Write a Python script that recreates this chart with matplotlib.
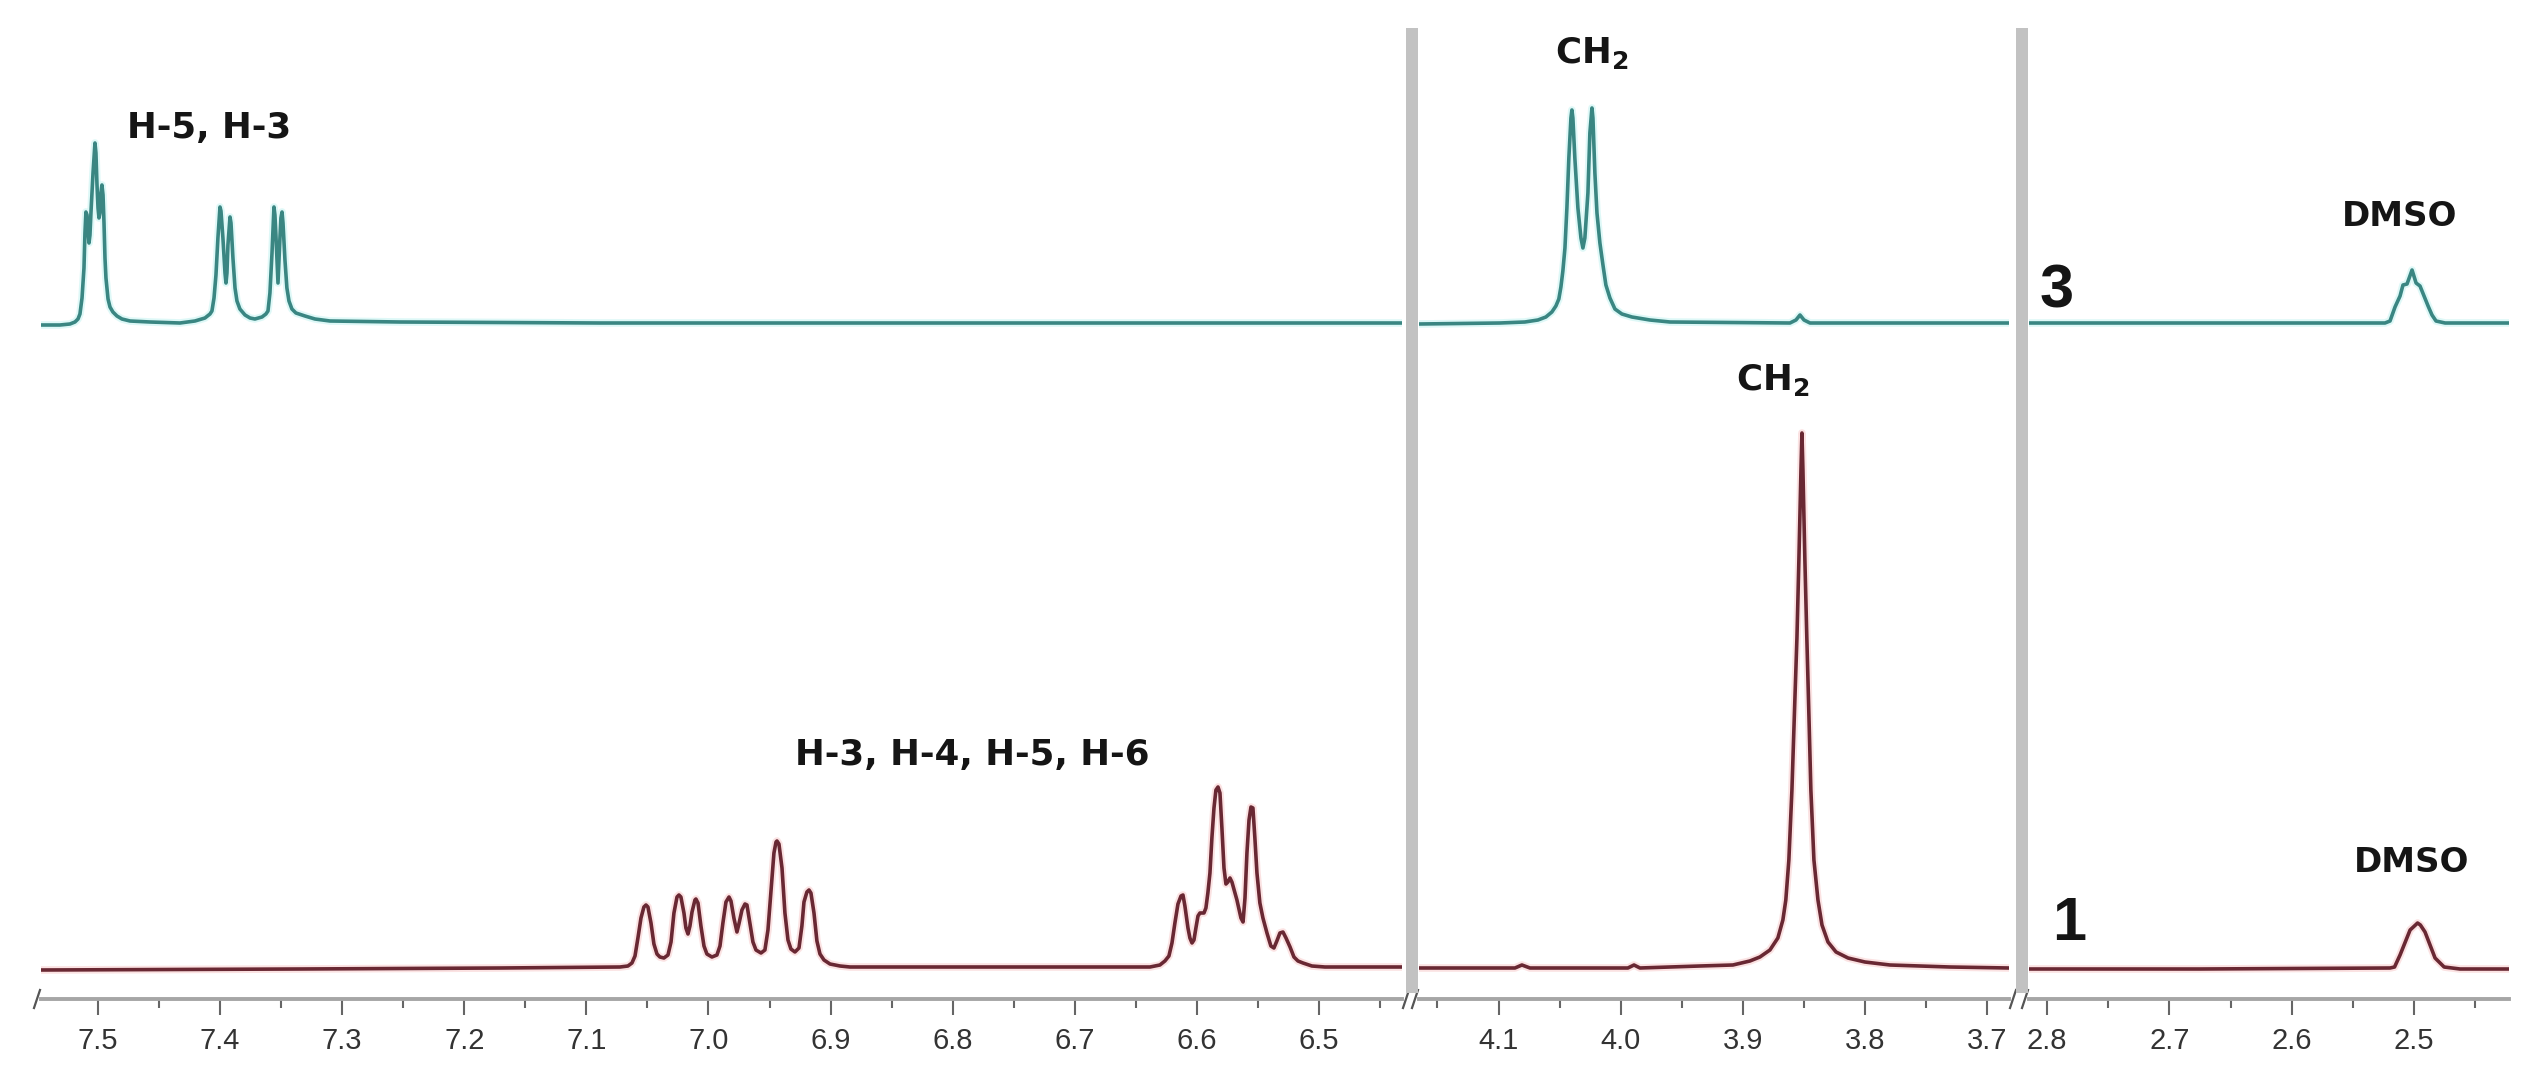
import matplotlib
matplotlib.use("Agg")
import matplotlib.pyplot as plt
from matplotlib.patches import Rectangle

W, H = 2545, 1086

# left region, aromatic
teal_ppm_a = [7.5459, 7.5312, 7.5230, 7.5189, 7.5164, 7.5148, 7.5131, 7.5115, 7.5107, 7.5099, 7.5090,
              7.5082, 7.5074, 7.5066, 7.5058, 7.5041, 7.5025, 7.5017, 7.5009, 7.5000, 7.4992, 7.4984,
              7.4976, 7.4968, 7.4959, 7.4951, 7.4943, 7.4935, 7.4918, 7.4902, 7.4878, 7.4845, 7.4804,
              7.4738, 7.4574, 7.4329, 7.4206, 7.4124, 7.4083, 7.4067, 7.4050, 7.4034, 7.4018, 7.4001,
              7.3993, 7.3977, 7.3960, 7.3952, 7.3944, 7.3936, 7.3919, 7.3911, 7.3895, 7.3878, 7.3862,
              7.3838, 7.3796, 7.3755, 7.3715, 7.3657, 7.3625, 7.3608, 7.3592, 7.3575, 7.3559, 7.3551,
              7.3543, 7.3526, 7.3510, 7.3502, 7.3493, 7.3485, 7.3469, 7.3453, 7.3436, 7.3412, 7.3379,
              7.3305, 7.3223, 7.3100, 7.2527, 7.0889, 6.8432, 6.4320]
teal_int_a = [-2, -2, -1, 1, 4, 9, 25, 55, 90, 111, 108,
              92, 80, 88, 110, 150, 180, 170, 140, 115, 105, 110,
              130, 138, 128, 100, 65, 45, 24, 16, 11, 7, 4,
              2, 1, 0, 2, 5, 9, 12, 25, 48, 85, 116,
              112, 85, 50, 40, 50, 78, 106, 100, 65, 35, 22,
              14, 8, 5, 4, 6, 9, 12, 30, 70, 116, 108,
              88, 40, 85, 105, 111, 100, 63, 35, 22, 14, 10,
              7, 4, 2, 1, 0, 0, 0]

red_ppm_a = [7.5467, 7.3346, 7.1708, 7.0725, 7.0660, 7.0627, 7.0602, 7.0578, 7.0553, 7.0529, 7.0512,
             7.0496, 7.0471, 7.0447, 7.0422, 7.0398, 7.0365, 7.0332, 7.0307, 7.0283, 7.0258, 7.0242,
             7.0226, 7.0201, 7.0185, 7.0168, 7.0152, 7.0135, 7.0111, 7.0103, 7.0086, 7.0062, 7.0037,
             7.0013, 6.9972, 6.9931, 6.9906, 6.9882, 6.9857, 6.9832, 6.9816, 6.9792, 6.9767, 6.9751,
             6.9726, 6.9701, 6.9685, 6.9661, 6.9636, 6.9611, 6.9570, 6.9538, 6.9513, 6.9488, 6.9464,
             6.9447, 6.9439, 6.9423, 6.9398, 6.9374, 6.9349, 6.9325, 6.9292, 6.9259, 6.9235, 6.9218,
             6.9194, 6.9177, 6.9161, 6.9136, 6.9112, 6.9087, 6.9054, 6.9005, 6.8923, 6.8841, 6.7613,
             6.6797, 6.6466, 6.6384, 6.6303, 6.6262, 6.6229, 6.6204, 6.6180, 6.6155, 6.6130, 6.6114,
             6.6098, 6.6073, 6.6057, 6.6040, 6.6024, 6.6008, 6.5991, 6.5975, 6.5942, 6.5926, 6.5910,
             6.5893, 6.5877, 6.5860, 6.5844, 6.5827, 6.5811, 6.5795, 6.5778, 6.5762, 6.5746, 6.5729,
             6.5713, 6.5672, 6.5639, 6.5622, 6.5606, 6.5590, 6.5573, 6.5557, 6.5541, 6.5525, 6.5508,
             6.5484, 6.5459, 6.5426, 6.5394, 6.5369, 6.5345, 6.5320, 6.5295, 6.5270, 6.5237, 6.5205,
             6.5172, 6.5131, 6.5058, 6.4951, 6.4320]
red_int_a = [-2, -1, 0, 1, 2, 5, 12, 30, 50, 61, 63,
             61, 45, 24, 14, 11, 10, 13, 26, 55, 71, 73,
             71, 55, 40, 34, 42, 56, 68, 69, 65, 42, 22,
             14, 11, 13, 22, 45, 66, 71, 67, 50, 36, 44,
             58, 64, 63, 45, 26, 18, 15, 18, 38, 78, 115,
             126, 127, 124, 100, 55, 28, 19, 16, 20, 42, 66,
             76, 78, 75, 55, 27, 14, 8, 4, 2, 1, 1,
             1, 1, 1, 3, 7, 12, 25, 45, 64, 72, 73,
             62, 40, 30, 25, 28, 40, 52, 55, 55, 60, 75,
             95, 130, 160, 178, 181, 175, 140, 100, 84, 86, 90,
             86, 68, 50, 46, 70, 115, 148, 161, 160, 130, 95,
             65, 50, 35, 22, 20, 27, 35, 36, 30, 21, 11,
             7, 5, 2, 1, 1]

# middle region, CH2
teal_ppm_b = [4.1651, 4.0989, 4.0785, 4.0678, 4.0613, 4.0564, 4.0531, 4.0507, 4.0490, 4.0474, 4.0457,
              4.0441, 4.0425, 4.0408, 4.0400, 4.0392, 4.0376, 4.0351, 4.0326, 4.0310, 4.0294, 4.0269,
              4.0253, 4.0236, 4.0228, 4.0212, 4.0195, 4.0171, 4.0146, 4.0122, 4.0089, 4.0048, 3.9991,
              3.9909, 3.9762, 3.9598, 3.8616, 3.8567, 3.8534, 3.8501, 3.8452, 3.6824]
teal_int_b = [-1, 0, 1, 3, 6, 11, 17, 24, 36, 52, 75,
              115, 165, 205, 213, 205, 165, 115, 85, 75, 85, 130,
              190, 215, 205, 150, 110, 80, 58, 38, 25, 14, 9,
              6, 3, 1, 0, 3, 8, 3, 0, 0]

red_ppm_b = [4.1651, 4.0866, 4.0809, 4.0743, 3.9942, 3.9892, 3.9843, 3.9353, 3.9083, 3.8944, 3.8862,
             3.8780, 3.8715, 3.8674, 3.8650, 3.8625, 3.8600, 3.8580, 3.8559, 3.8543, 3.8526, 3.8518,
             3.8510, 3.8494, 3.8478, 3.8461, 3.8445, 3.8420, 3.8387, 3.8354, 3.8305, 3.8239, 3.8141,
             3.8003, 3.7798, 3.7307, 3.6824]
red_int_b = [0, 0, 3, 0, 0, 3, 0, 2, 3, 7, 11,
             18, 30, 48, 68, 108, 178, 253, 330, 408, 498, 535,
             498, 408, 330, 253, 178, 108, 68, 43, 26, 16, 10,
             6, 3, 1, 0]

# right region, DMSO
teal_ppm_c = [2.8147, 2.6750, 2.5239, 2.5198, 2.5157, 2.5116, 2.5092, 2.5059, 2.5018, 2.4985, 2.4953,
              2.4920, 2.4887, 2.4855, 2.4822, 2.4748, 2.4226]
teal_int_c = [0, 0, 0, 2, 16, 27, 38, 39, 53, 40, 37,
              27, 17, 8, 2, 0, 0]

red_ppm_c = [2.8147, 2.6750, 2.5198, 2.5161, 2.5116, 2.5034, 2.4990, 2.4973, 2.4950, 2.4912, 2.4830, 2.4756, 2.4626, 2.4226]
red_int_c = [-1, -1, 0, 1, 13, 38, 43, 45, 43, 36, 10, 1, -1, -1]

ticks_a = [7.5, 7.4, 7.3, 7.2, 7.1, 7.0, 6.9, 6.8, 6.7, 6.6, 6.5]
minor_a = [7.45, 7.35, 7.25, 7.15, 7.05, 6.95, 6.85, 6.75, 6.65, 6.55, 6.45]
ticks_b = [4.1, 4.0, 3.9, 3.8, 3.7]
minor_b = [4.15, 4.05, 3.95, 3.85, 3.75]
ticks_c = [2.8, 2.7, 2.6, 2.5]
minor_c = [2.75, 2.65, 2.55, 2.45]

TEAL_BASE = 676
RED_BASE = 31


def px_axes(x0, x1, y0=28, y1=999):
    return fig.add_axes([x0 / W, 1 - y1 / H, (x1 - x0) / W, (y1 - y0) / H])


def trace(ax, ppm, vals, base, col, halo):
    ys = [v + base for v in vals]
    ax.plot(ppm, ys, color=halo, lw=5.5, alpha=0.25, solid_joinstyle="round")
    ax.plot(ppm, ys, color=col, lw=2.6, solid_joinstyle="round")


def label(x, y, s, size=25.7, **kw):
    fig.text(x / W, 1 - y / H, s, fontsize=size, va="baseline", ha="left", color="#151515", **kw)


fig = plt.figure(figsize=(W / 100, H / 100), dpi=100, facecolor="white")

panels = [
    (41, 1402, (7.5467, 6.4320), ticks_a, minor_a, teal_ppm_a, teal_int_a, red_ppm_a, red_int_a, [0, 1]),
    (1419, 2009, (4.1651, 3.6824), ticks_b, minor_b, teal_ppm_b, teal_int_b, red_ppm_b, red_int_b, [0, 1]),
    (2029, 2509, (2.8147, 2.4226), ticks_c, minor_c, teal_ppm_c, teal_int_c, red_ppm_c, red_int_c, [0]),
]

for x0, x1, lim, ticks, minor, tx, ty, rx, ry, breaks in panels:
    ax = px_axes(x0, x1)
    ax.set_xlim(lim)
    ax.set_ylim(0, 971)
    ax.patch.set_alpha(0)
    trace(ax, tx, ty, TEAL_BASE, "#3a8682", "#7fe6e2")
    trace(ax, rx, ry, RED_BASE, "#692833", "#f08f8f")
    for side in ["top", "left", "right"]:
        ax.spines[side].set_visible(False)
    ax.spines["bottom"].set_linewidth(2.8)
    ax.spines["bottom"].set_color("#a6a6a6")
    ax.set_yticks([])
    ax.set_xticks(ticks)
    ax.set_xticklabels(["%.1f" % t for t in ticks], fontsize=21, family="Liberation Sans", color="#333333")
    ax.set_xticks(minor, minor=True)
    ax.tick_params(axis="x", which="major", length=11.5, width=1.5, color="#666666", pad=9)
    ax.tick_params(axis="x", which="minor", length=6.5, width=1.5, color="#666666")
    # axis break marks
    for xb in breaks:
        off = -4 / (x1 - x0) if xb == 0 else 4 / (x1 - x0)
        ax.plot([xb + off - 3 / (x1 - x0), xb + off + 3 / (x1 - x0)], [-9 / 971, 9 / 971],
                transform=ax.transAxes, color="#555555", lw=1.6, clip_on=False)

# grey separators between the regions
for x0 in [1406, 2016]:
    fig.add_artist(Rectangle((x0 / W, 1 - 993 / H), 11.5 / W, (993 - 28) / H, transform=fig.transFigure,
                             facecolor="#c2c2c2", edgecolor="none"))

label(127, 138, "H-5, H-3", weight="bold")
label(795, 765, "H-3, H-4, H-5, H-6", weight="bold")
label(1555, 63, "CH$_{\\mathbf{2}}$", weight="bold")
label(1736, 390, "CH$_{\\mathbf{2}}$", weight="bold")
label(2342, 226, "DMSO", size=24.5, weight="bold")
label(2354, 872, "DMSO", size=24.5, weight="bold")
label(2040, 307, "3", size=44, weight="bold", family="Liberation Sans")
label(2052, 940, "1", size=44, weight="bold", family="Liberation Sans")

fig.savefig("out.png", dpi=100)
